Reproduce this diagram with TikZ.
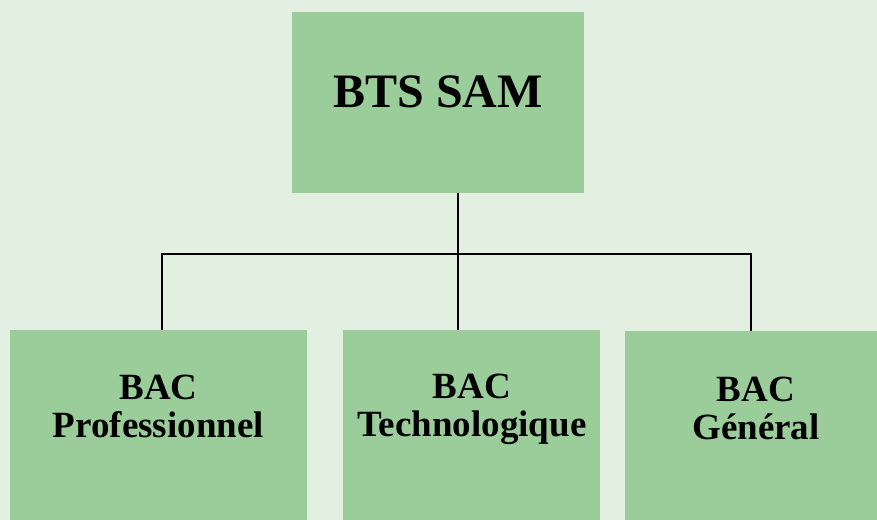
\documentclass[tikz,border=0pt]{standalone}
\usepackage{fontspec}
\setmainfont{Liberation Serif}
\definecolor{bgcol}{HTML}{E2EFE1}
\definecolor{boxcol}{HTML}{9BCD9B}

\begin{document}
\begin{tikzpicture}[x=1pt, y=-1pt, box/.style = {fill=boxcol, inner sep=0, outer sep=0}, txt/.style = {align=center, inner sep=0, anchor=north, font=\fontsize{37}{38}\selectfont\bfseries}, link/.style = {line width=2pt}]
    \useasboundingbox (0,0) rectangle (877,519);
    \fill[bgcol] (-3,-3) rectangle (880,522);
    \node[box, minimum width=292, minimum height=181] (bts) at (438,102.5) {};
    \node[box, minimum width=297, minimum height=230] (pro) at (158.5,445) {};
    \node[box, minimum width=257, minimum height=230] (tec) at (471.5,445) {};
    \node[box, minimum width=262, minimum height=230] (gen) at (756,446) {};
    \node[font=\fontsize{48}{50}\selectfont\bfseries, inner sep=0, anchor=base] (btst) at (438,107) {BTS SAM};
    \node[txt] (prot) at (158.5,375) {BAC\\Professionnel};
    \node[txt] (tect) at (472,374) {BAC\\Technologique};
    \node[txt] (gent) at (756,377) {BAC\\Général};
    \coordinate (hl) at (162,254);
    \coordinate (hm) at (458,254);
    \coordinate (hr) at (751,254);
    \draw[link] (hl |- pro.north) -- (hl) -- (hr) -- (hr |- gen.north);
    \draw[link] (hm |- bts.south) -- (hm |- tec.north);
\end{tikzpicture}
\end{document}
